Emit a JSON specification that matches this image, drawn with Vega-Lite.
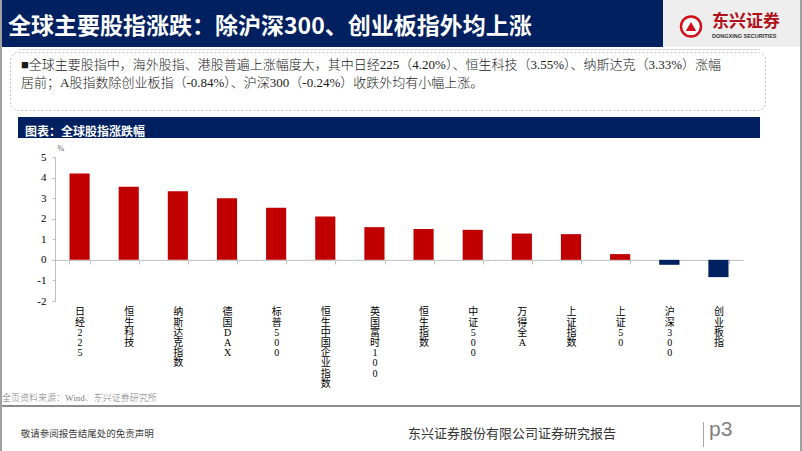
{
  "$schema": "https://vega.github.io/schema/vega-lite/v6.json",
  "background": "white",
  "padding": 0,
  "spacing": 0,
  "bounds": "full",
  "config": {"view": {"stroke": null}},
  "hconcat": [
    {"width": 2, "height": 451, "data": {"values": []}, "mark": "point", "view": {"fill": "#a0a0a0", "stroke": null}},
    {
      "spacing": 0,
      "bounds": "full",
      "vconcat": [
        {
          "spacing": 0,
          "bounds": "flush",
          "hconcat": [
            {
              "width": 661, "height": 47,
              "data": {"values": []}, "mark": "point",
              "view": {"fill": "#002060", "stroke": null},
              "title": {"text": "全球主要股指涨跌：除沪深300、创业板指外均上涨", "anchor": "start", "frame": "group", "offset": -39, "dx": 6, "color": "#ffffff", "font": "Noto Sans CJK SC", "fontSize": 23, "fontWeight": "bold"}
            },
            {
              "width": 56, "height": 47,
              "view": {"fill": "#eeeeee", "stroke": null},
              "data": {"values": [{"logo": "东兴证券"}]},
              "layer": [
                {"mark": {"type": "point", "shape": "circle", "size": 400, "filled": true, "fill": "#ffffff", "stroke": "#d0101b", "strokeWidth": 2.5, "opacity": 1, "yOffset": 3}},
                {"mark": {"type": "point", "shape": "triangle-up", "size": 110, "filled": true, "color": "#d0101b", "opacity": 1, "yOffset": 3}}
              ]
            },
            {
              "width": 81, "height": 47,
              "data": {"values": []}, "mark": "point",
              "view": {"fill": "#eeeeee", "stroke": null},
              "title": {"text": "东兴证券", "subtitle": "DONGXING SECURITIES", "anchor": "start", "frame": "group", "offset": -40, "dx": -7, "subtitlePadding": 2.5, "color": "#b0121b", "font": "Noto Sans CJK SC", "fontSize": 17, "fontWeight": "bold", "subtitleColor": "#333333", "subtitleFont": "Liberation Sans", "subtitleFontSize": 5.5, "subtitleFontWeight": "bold"}
            }
          ]
        },
        {"width": 798, "height": 2, "data": {"values": []}, "mark": "point"},
        {
          "spacing": 0,
          "bounds": "flush",
          "hconcat": [
            {"width": 16, "height": 1, "data": {"values": []}, "mark": "point"},
            {"width": 742, "height": 1, "data": {"values": []}, "mark": "point", "view": {"fill": "#dadada", "stroke": null}}
          ]
        },
        {"width": 798, "height": 1, "data": {"values": []}, "mark": "point"},
        {
          "spacing": 0,
          "bounds": "flush",
          "hconcat": [
            {"width": 8, "height": 58, "data": {"values": []}, "mark": "point"},
            {
              "width": 755, "height": 58,
              "data": {"values": []}, "mark": "point",
              "view": {"fill": "#ffffff", "stroke": "#c4c4c4", "strokeDash": [2, 2], "strokeWidth": 1, "cornerRadius": 8},
              "title": {
                "text": ["■全球主要股指中，海外股指、港股普遍上涨幅度大，其中日经225（4.20%）、恒生科技（3.55%）、纳斯达克（3.33%）涨幅", "居前；A股指数除创业板指（-0.84%）、沪深300（-0.24%）收跌外均有小幅上涨。"],
                "anchor": "start", "frame": "group", "offset": -38, "dx": 11, "color": "#1a1a1a", "font": "Liberation Serif, Noto Sans CJK SC", "fontSize": 13, "fontWeight": 300, "lineHeight": 18
              }
            }
          ]
        },
        {"width": 798, "height": 6, "data": {"values": []}, "mark": "point"},
        {
          "spacing": 0,
          "bounds": "flush",
          "hconcat": [
            {"width": 16, "height": 21, "data": {"values": []}, "mark": "point"},
            {
              "width": 742, "height": 21,
              "data": {"values": []}, "mark": "point",
              "view": {"fill": "#002060", "stroke": null},
              "title": {"text": "图表：全球股指涨跌幅", "anchor": "start", "frame": "group", "offset": -22, "dx": 7, "color": "#ffffff", "font": "Noto Sans CJK SC", "fontSize": 12, "fontWeight": "bold"}
            }
          ]
        },
        {"width": 798, "height": 6, "data": {"values": []}, "mark": "point"},
        {
          "spacing": 0,
          "bounds": "flush",
          "hconcat": [
            {"width": 53, "height": 237, "data": {"values": []}, "mark": "point"},
            {
              "width": 688, "height": 144,
              "data": {"values": [
                {"name": "日经225", "value": 4.20},
                {"name": "恒生科技", "value": 3.55},
                {"name": "纳斯达克指数", "value": 3.33},
                {"name": "德国DAX", "value": 2.99},
                {"name": "标普500", "value": 2.53},
                {"name": "恒生中国企业指数", "value": 2.11},
                {"name": "英国富时100", "value": 1.59},
                {"name": "恒生指数", "value": 1.50},
                {"name": "中证500", "value": 1.46},
                {"name": "万得全A", "value": 1.28},
                {"name": "上证指数", "value": 1.25},
                {"name": "上证50", "value": 0.28},
                {"name": "沪深300", "value": -0.24},
                {"name": "创业板指", "value": -0.84}
              ]},
              "mark": {"type": "bar"},
              "encoding": {
                "x": {
                  "field": "name", "type": "nominal", "sort": null,
                  "scale": {"paddingInner": 0.59, "paddingOuter": 0.295},
                  "axis": {
                    "title": null, "orient": "bottom", "offset": -41.14,
                    "domainColor": "#bfbfbf", "domainWidth": 1,
                    "ticks": true, "tickColor": "#bfbfbf", "tickSize": 4, "tickBand": "extent",
                    "labelPadding": 43, "labelAngle": 0, "labelAlign": "center", "labelBaseline": "top",
                    "labelExpr": "split(datum.label, '')",
                    "labelFont": "Liberation Serif, Noto Sans CJK SC", "labelFontSize": 10, "labelLineHeight": 10.2,
                    "labelColor": "#000000", "labelOverlap": false, "labelLimit": 0
                  }
                },
                "y": {
                  "field": "value", "type": "quantitative",
                  "scale": {"domain": [-2, 5], "nice": false, "zero": false},
                  "axis": {
                    "values": [-2, -1, 0, 1, 2, 3, 4, 5],
                    "labelExpr": "'' + datum.value",
                    "grid": false,
                    "domainColor": "#bfbfbf", "tickColor": "#bfbfbf", "tickSize": 3,
                    "labelPadding": 6, "labelFont": "Liberation Serif", "labelFontSize": 11, "labelColor": "#000000",
                    "title": "%", "titleAngle": 0, "titleX": 2, "titleY": -9, "titleAlign": "left", "titleBaseline": "middle",
                    "titleFontSize": 8, "titleFontWeight": "normal", "titleFont": "Liberation Serif", "titleColor": "#595959"
                  }
                },
                "color": {"condition": {"test": "datum.value < 0", "value": "#002060"}, "value": "#c00000"}
              }
            }
          ]
        },
        {
          "width": 798, "height": 10,
          "data": {"values": []}, "mark": "point",
          "title": {"text": "全页资料来源：Wind、东兴证券研究所", "anchor": "start", "frame": "group", "offset": -8.3, "dx": 0, "color": "#808080", "font": "Liberation Serif, Noto Sans CJK SC", "fontSize": 9, "fontWeight": 300}
        },
        {"width": 798, "height": 2, "data": {"values": []}, "mark": "point", "view": {"fill": "#8c8c8c", "stroke": null}},
        {
          "spacing": 0,
          "bounds": "full",
          "hconcat": [
            {
              "width": 406, "height": 44,
              "data": {"values": []}, "mark": "point",
              "title": {"text": "敬请参阅报告结尾处的免责声明", "anchor": "start", "frame": "group", "offset": -31.3, "dx": 18.7, "color": "#404040", "font": "Noto Sans CJK SC", "fontSize": 9.5, "fontWeight": "normal"}
            },
            {
              "width": 295, "height": 44,
              "data": {"values": []}, "mark": "point",
              "title": {"text": "东兴证券股份有限公司证券研究报告", "anchor": "start", "frame": "group", "offset": -33.7, "dx": 0, "color": "#333333", "font": "Noto Sans CJK SC", "fontSize": 13, "fontWeight": "normal"}
            },
            {
              "spacing": 0,
              "bounds": "full",
              "vconcat": [
                {"width": 1, "height": 15, "data": {"values": []}, "mark": "point"},
                {"width": 1, "height": 25, "data": {"values": []}, "mark": "point", "view": {"fill": "#a6a6a6", "stroke": null}},
                {"width": 1, "height": 4, "data": {"values": []}, "mark": "point"}
              ]
            },
            {
              "width": 96, "height": 44,
              "data": {"values": []}, "mark": "point",
              "title": {"text": "p3", "anchor": "start", "frame": "group", "offset": -32.5, "dx": 5, "color": "#808080", "font": "Liberation Sans", "fontSize": 21, "fontWeight": "normal"}
            }
          ]
        },
        {"width": 798, "height": 2, "data": {"values": []}, "mark": "point", "view": {"fill": "#a0a0a0", "stroke": null}}
      ]
    },
    {"width": 2, "height": 451, "data": {"values": []}, "mark": "point", "view": {"fill": "#a0a0a0", "stroke": null}}
  ]
}
